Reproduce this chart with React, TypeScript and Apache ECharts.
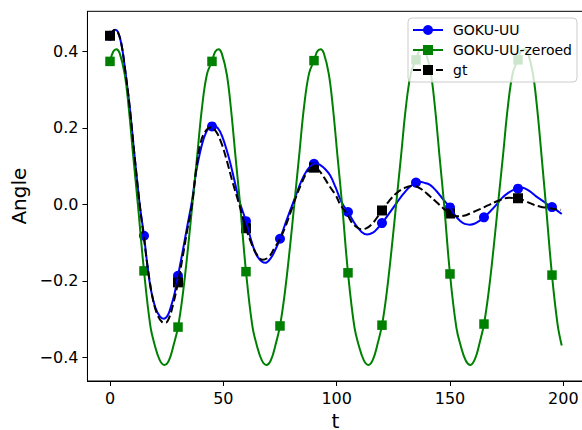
import React, { useEffect, useRef } from "react";
import * as echarts from "echarts";

const xTicks = [0, 50, 100, 150, 200];
const yTicks = [-0.4, -0.2, 0.0, 0.2, 0.4];
const seriesNames = ["GOKU-UU", "GOKU-UU-zeroed", "gt"];

const markerT15 = [0, 15, 30, 45, 60, 75, 90, 105, 120, 135, 150, 165, 180, 195];
const markerT30 = [0, 30, 60, 90, 120, 150, 180];

const uuMarkers = [0.441, -0.082, -0.187, 0.204, -0.044, -0.09, 0.106, -0.02, -0.049, 0.057, -0.008, -0.034, 0.041, -0.007];
const zeroedMarkers = [0.374, -0.174, -0.321, 0.374, -0.176, -0.318, 0.376, -0.179, -0.316, 0.378, -0.182, -0.313, 0.378, -0.185];
const gtMarkers = [0.441, -0.204, -0.0625, 0.096, -0.016, -0.024, 0.016];

const uuCurve = [
  [0, 0.441], [1, 0.452], [2.3, 0.457], [3.5, 0.451], [5, 0.42], [6.5, 0.36], [8.7, 0.254], [10.9, 0.123],
  [13.1, 0.0], [15, -0.082], [16.5, -0.16], [18.1, -0.225], [20, -0.27], [22, -0.293], [23.7, -0.299],
  [25.5, -0.29], [27, -0.265], [28.5, -0.233], [30, -0.187], [32, -0.125], [34, -0.06], [36.2, 0.01],
  [38, 0.085], [39.5, 0.13], [41.5, 0.175], [43.5, 0.2], [45.4, 0.207], [47.5, 0.2], [49.5, 0.178],
  [52.4, 0.123], [55, 0.06], [57, 0.01], [60, -0.044], [62.6, -0.1], [65, -0.136], [68.5, -0.153],
  [71, -0.14], [73, -0.118], [75, -0.09], [78, -0.04], [81.8, 0.02], [84.5, 0.062], [87, 0.09],
  [89, 0.103], [90, 0.106], [91, 0.107], [92.5, 0.104], [95, 0.092], [97.1, 0.076], [99.5, 0.045],
  [101.6, 0.013], [103, -0.003], [105, -0.02], [108, -0.05], [111, -0.072], [113.5, -0.079], [116, -0.074],
  [118, -0.063], [120, -0.049], [123, -0.025], [126.5, 0.004], [129.5, 0.028], [132.4, 0.047], [135, 0.057],
  [136.5, 0.059], [139, 0.056], [141.2, 0.051], [144, 0.035], [147, 0.013], [150, -0.008], [152, -0.027],
  [154.4, -0.043], [156.5, -0.051], [158.8, -0.053], [161, -0.05], [163, -0.043], [165, -0.034], [167.5, -0.02],
  [170.6, 0.0], [173, 0.017], [175.7, 0.03], [178, 0.038], [180, 0.041], [181.3, 0.044], [183, 0.042],
  [185.3, 0.034], [188, 0.021], [191.2, 0.008], [193, 0.0], [195, -0.007], [197, -0.015], [199.3, -0.025],
];

const zeroedCurve = [
  [0, 0.374], [1.4, 0.399], [2.8, 0.406], [4.3, 0.395], [6.5, 0.34], [8.2, 0.256], [10.3, 0.123], [12.3, 0.0],
  [15, -0.174], [17.8, -0.318], [19.7, -0.367], [22, -0.408], [24, -0.42], [26, -0.408], [28.1, -0.367],
  [30, -0.321], [32.1, -0.236], [34.4, -0.115], [36.5, 0.01], [38.4, 0.123], [40.6, 0.254], [42.8, 0.341],
  [45, 0.374], [46.4, 0.399], [47.9, 0.406], [49.3, 0.395], [51.5, 0.341], [53.3, 0.254], [55.4, 0.123],
  [57.4, 0.0], [60, -0.176], [62.8, -0.318], [64.7, -0.367], [67, -0.408], [69, -0.42], [71, -0.407],
  [73.1, -0.366], [75, -0.318], [77.1, -0.233], [79.4, -0.112], [81.5, 0.012], [83.4, 0.124], [85.6, 0.255],
  [87.8, 0.342], [90, 0.376], [91.4, 0.4], [92.9, 0.406], [94.3, 0.396], [96.5, 0.342], [98.3, 0.256],
  [100.4, 0.124], [102.4, 0.0], [105, -0.179], [107.8, -0.32], [109.7, -0.368], [112, -0.408], [114, -0.42],
  [116, -0.406], [118.1, -0.364], [120, -0.316], [122.1, -0.23], [124.4, -0.108], [126.5, 0.015],
  [128.4, 0.126], [130.6, 0.257], [132.8, 0.344], [135, 0.378], [136.4, 0.401], [137.9, 0.406],
  [139.3, 0.397], [141.5, 0.344], [143.3, 0.258], [145.4, 0.125], [147.4, 0.0], [150, -0.182],
  [152.8, -0.322], [154.7, -0.369], [157, -0.409], [159, -0.42], [161, -0.405], [163.1, -0.362],
  [165, -0.313], [167.1, -0.227], [169.4, -0.105], [171.5, 0.018], [173.4, 0.128], [175.6, 0.259],
  [177.8, 0.346], [180, 0.378], [181.4, 0.401], [182.9, 0.406], [184.3, 0.397], [186.5, 0.345],
  [188.3, 0.26], [190.4, 0.127], [192.3, 0.0], [195, -0.185], [197.5, -0.315], [199.3, -0.369],
];

const gtCurve = [
  [0, 0.441], [1, 0.452], [2.3, 0.456], [3.5, 0.45], [5, 0.42], [6.5, 0.36], [8.7, 0.254], [10.9, 0.123],
  [13.1, 0.0], [15, -0.09], [17, -0.18], [19, -0.25], [21, -0.29], [23, -0.308], [24.5, -0.31], [26, -0.298],
  [28, -0.258], [30, -0.204], [32, -0.14], [34, -0.07], [36.2, 0.0], [38, 0.09], [40, 0.162], [42, 0.19],
  [44.3, 0.201], [46.5, 0.193], [49, 0.163], [51.5, 0.115], [54, 0.06], [57, 0.0], [60, -0.0625],
  [62.6, -0.105], [65, -0.133], [67.3, -0.145], [70, -0.138], [72.5, -0.115], [75, -0.09], [77.4, -0.058],
  [80, -0.015], [82, 0.018], [84.5, 0.055], [87, 0.084], [89.7, 0.098], [92, 0.09], [94.5, 0.07],
  [97, 0.046], [99.5, 0.025], [101.5, 0.0], [103, -0.012], [105, -0.03], [107, -0.05], [109, -0.06],
  [111, -0.065], [113, -0.063], [115.5, -0.052], [118, -0.033], [120, -0.016], [123, 0.008], [126.5, 0.03],
  [130, 0.043], [133.5, 0.048], [137, 0.041], [141, 0.022], [144, 0.006], [147, -0.01], [150, -0.024],
  [153, -0.031], [156, -0.03], [159.5, -0.022], [163, -0.013], [167, -0.002], [171.5, 0.01], [176, 0.017],
  [180, 0.016], [183.5, 0.008], [187, -0.001], [190, -0.006], [193, -0.009], [196, -0.012], [199, -0.014],
];

const FONT = "DejaVu Sans";

function fmtY(v: number): string {
  const s = Math.abs(v).toFixed(1);
  return v < -1e-9 ? "\u2212" + s : s;
}

export default function App() {
  const ref = useRef<HTMLDivElement>(null);
  useEffect(() => {
    if (!ref.current) return;
    const chart = echarts.init(ref.current, null, { renderer: "svg", width: 582, height: 430 });
    const colors = ["#0000ff", "#008000", "#000000"];
    const axisCommon = {
      type: "value",
      axisLine: { show: true, onZero: false, lineStyle: { color: "#000", width: 1 } },
      axisTick: { show: true, inside: false, length: 5, lineStyle: { color: "#000", width: 1 } },
      splitLine: { show: false },
    };
    const option = {
      animation: false,
      backgroundColor: "#ffffff",
      grid: {
        left: 87.45,
        top: 11.3,
        width: 496.15,
        height: 369.7,
        show: true,
        borderColor: "#000",
        borderWidth: 1,
        containLabel: false,
        outerBoundsMode: "none",
      },
      xAxis: {
        ...axisCommon,
        min: -9.95,
        max: 208.95,
        name: "t",
        nameLocation: "middle",
        nameGap: 30,
        nameTextStyle: { fontSize: 20, fontFamily: FONT, color: "#000", lineHeight: 14 },
        axisTick: { ...axisCommon.axisTick, customValues: xTicks },
        axisLabel: {
          customValues: xTicks,
          fontSize: 16,
          fontFamily: FONT,
          color: "#000",
          margin: 9,
          formatter: (v: number) => String(v),
        },
      },
      yAxis: {
        ...axisCommon,
        min: -0.462,
        max: 0.505,
        name: "Angle",
        nameLocation: "middle",
        nameRotate: 90,
        nameGap: 55,
        nameTextStyle: { fontSize: 20, fontFamily: FONT, color: "#000" },
        axisTick: { ...axisCommon.axisTick, customValues: yTicks },
        axisLabel: {
          customValues: yTicks,
          fontSize: 16,
          fontFamily: FONT,
          color: "#000",
          margin: 9,
          formatter: (v: number) => fmtY(v),
        },
      },
      legend: {
        data: seriesNames,
        orient: "vertical",
        left: 408,
        top: 18,
        padding: [5, 5, 5, 4],
        itemWidth: 30,
        itemHeight: 12.5,
        itemGap: 6,
        selectedMode: false,
        backgroundColor: "rgba(255,255,255,0.8)",
        borderColor: "#cccccc",
        borderWidth: 1,
        borderRadius: 4,
        textStyle: { fontSize: 14, fontFamily: FONT, color: "#000", padding: [0, 0, 0, 5] },
      },
      series: [
        { name: seriesNames[0], type: "line", data: uuCurve, smooth: 0.4, showSymbol: false, symbol: "circle",
          lineStyle: { color: colors[0], width: 2 }, itemStyle: { color: colors[0] }, silent: true },
        { name: seriesNames[0], type: "scatter", data: markerT15.map((t, i) => [t, uuMarkers[i]]), symbol: "circle",
          symbolSize: 10, itemStyle: { color: colors[0], opacity: 1 }, silent: true },
        { name: seriesNames[1], type: "line", data: zeroedCurve, smooth: 0.4, showSymbol: false, symbol: "rect",
          lineStyle: { color: colors[1], width: 2 }, itemStyle: { color: colors[1] }, silent: true },
        { name: seriesNames[1], type: "scatter", data: markerT15.map((t, i) => [t, zeroedMarkers[i]]), symbol: "rect",
          symbolSize: 9.5, itemStyle: { color: colors[1], opacity: 1 }, silent: true },
        { name: seriesNames[2], type: "line", data: gtCurve, smooth: 0.4, showSymbol: false, symbol: "rect",
          lineStyle: { color: colors[2], width: 2, type: [8, 3.5] }, itemStyle: { color: colors[2] }, silent: true },
        { name: seriesNames[2], type: "scatter", data: markerT30.map((t, i) => [t, gtMarkers[i]]), symbol: "rect",
          symbolSize: 10, itemStyle: { color: colors[2], opacity: 1 }, silent: true },
      ],
    };
    chart.setOption(option as any);
    return () => chart.dispose();
  }, []);
  return (
    <div
      ref={ref}
      style={{ position: "fixed", left: 0, top: 0, width: 582, height: 430, background: "#fff" }}
    />
  );
}
